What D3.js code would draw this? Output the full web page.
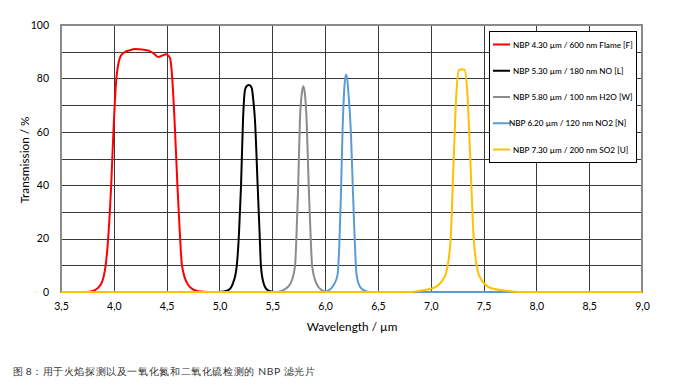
<!DOCTYPE html>
<html><head><meta charset="utf-8">
<script src="https://cdn.jsdelivr.net/npm/d3@7/dist/d3.min.js"></script>
<style>
html,body{margin:0;padding:0;background:#fff;}
svg{display:block;}
text{font-family:Lato,"Open Sans",sans-serif;}
</style></head>
<body><svg id="c" width="700" height="391"></svg>
<script>
// ---- data ----
const xTicks = [3.5,4.0,4.5,5.0,5.5,6.0,6.5,7.0,7.5,8.0,8.5,9.0];
const yTicks = [0,20,40,60,80,100];
const yGrid = [0,10,20,30,40,50,60,70,80,90,100];
const seriesNames = [
  "NBP 4.30 \u00b5m / 600 nm Flame [F]",
  "NBP 5.30 \u00b5m / 180 nm NO [L]",
  "NBP 5.80 \u00b5m / 100 nm H2O [W]",
  "NBP 6.20 \u00b5m / 120 nm NO2 [N]",
  "NBP 7.30 \u00b5m / 200 nm SO2 [U]"
];
const seriesColors = ["#ff0000","#000000","#8c8c8c","#5b9bd5","#ffc000"];
const flame = [[3.5,0],[3.75,0],[3.82,0.7],[3.88,3],[3.925,10.7],[3.95,22],[3.975,40],[3.997,60.7],[4.022,79],[4.06,88],[4.09,89.5],[4.15,90.5],[4.2,91],[4.27,90.8],[4.33,90.4],[4.38,89.3],[4.42,88],[4.46,88.6],[4.495,89],[4.52,88.3],[4.533,87.5],[4.555,79],[4.58,60],[4.602,40],[4.625,22],[4.643,10.7],[4.675,5],[4.706,2.5],[4.75,1],[4.80,0.3],[4.9,0],[9,0]];
const no = [[3.5,0],[5.0,0],[5.084,0.7],[5.13,3.5],[5.163,9.5],[5.185,22],[5.204,39.5],[5.223,64.5],[5.242,75.7],[5.26,77.2],[5.28,77.5],[5.305,76.5],[5.32,72],[5.336,64.5],[5.362,39.5],[5.38,22],[5.393,9.5],[5.42,3],[5.456,0.7],[5.52,0],[9,0]];
const h2o = [[3.5,0],[5.55,0],[5.604,0.7],[5.67,3],[5.715,9.5],[5.73,22],[5.745,39.5],[5.762,64.5],[5.78,74.5],[5.793,77.1],[5.808,74.5],[5.825,64.5],[5.845,39.5],[5.862,22],[5.878,9.5],[5.92,3],[5.967,0.7],[6.03,0],[9,0]];
const no2 = [[3.5,0],[5.98,0],[6.029,0.5],[6.08,2.5],[6.118,6.4],[6.135,18],[6.149,35],[6.165,60],[6.18,75],[6.197,81.5],[6.21,79.5],[6.22,75],[6.244,60],[6.266,35],[6.285,15],[6.298,6.4],[6.33,2],[6.376,0.5],[6.43,0],[9,0]];
const so2 = [[3.5,0],[6.8,0],[6.896,0.5],[7.02,1.4],[7.132,5.7],[7.186,18.2],[7.217,49.4],[7.243,74.4],[7.268,83.2],[7.295,83.4],[7.321,83.2],[7.347,74.4],[7.375,49.4],[7.41,18.2],[7.463,5.7],[7.573,1.4],[7.715,0.5],[7.85,0],[9,0]];
const seriesData = [flame,no,h2o,no2,so2];

// ---- chart ----
const svg = d3.select("#c");
const L=61, R=642, T=25, B=292;
const x = d3.scaleLinear().domain([3.5,9.0]).range([L,R]);
const y = d3.scaleLinear().domain([0,100]).range([B,T]);
const fmt = d => d3.format(".1f")(d).replace(".",",");

// grid
const g = svg.append("g");
g.selectAll(".hg").data(yGrid).join("line")
  .attr("x1",L).attr("x2",R)
  .attr("y1",d=>Math.round(y(d))+0.5).attr("y2",d=>Math.round(y(d))+0.5)
  .attr("stroke","#3a3a3a").attr("stroke-width",1);
g.selectAll(".vg").data(xTicks).join("line")
  .attr("y1",T).attr("y2",B)
  .attr("x1",d=>Math.round(x(d))+0.5).attr("x2",d=>Math.round(x(d))+0.5)
  .attr("stroke","#3a3a3a").attr("stroke-width",1);
svg.append("rect").attr("x",L).attr("y",T).attr("width",R-L).attr("height",B-T)
  .attr("fill","none").attr("stroke","#8a8a8a").attr("stroke-width",2);

// axes
const xAxis = svg.append("g").attr("transform",`translate(0,${B})`)
  .call(d3.axisBottom(x).tickValues(xTicks).tickFormat(fmt).tickSize(0).tickPadding(10.5));
xAxis.select(".domain").remove();
xAxis.selectAll("text").attr("font-size","10.5px").attr("fill","#000").attr("font-family","Lato,sans-serif");
const yAxis = svg.append("g").attr("transform",`translate(${L},0)`)
  .call(d3.axisLeft(y).tickValues(yTicks).tickFormat(d3.format("d")).tickSize(0).tickPadding(12));
yAxis.select(".domain").remove();
yAxis.selectAll("text").attr("font-size","10.5px").attr("fill","#000").attr("font-family","Lato,sans-serif");

svg.append("text").attr("x",352).attr("y",331).attr("text-anchor","middle")
  .attr("font-size","11.8px").text("Wavelength / \u00b5m");
svg.append("text").attr("transform",`translate(29,160) rotate(-90)`).attr("text-anchor","middle")
  .attr("font-size","11.8px").text("Transmission / %");

// lines
const line = d3.line().x(d=>x(d[0])).y(d=>y(d[1])).curve(d3.curveMonotoneX);
svg.append("g").selectAll("path").data(seriesData).join("path")
  .attr("d",line).attr("fill","none")
  .attr("stroke",(d,i)=>seriesColors[i]).attr("stroke-width",2);

// legend
const lg = svg.append("g");
lg.append("rect").attr("x",489.5).attr("y",31.5).attr("width",147).attr("height",131)
  .attr("fill","#fff").attr("stroke","#000").attr("stroke-width",1);
const ly = d3.scalePoint().domain(d3.range(seriesNames.length)).range([44.5,149.5]);
seriesNames.forEach((n,i)=>{
  lg.append("line").attr("x1",493).attr("x2",510).attr("y1",ly(i)).attr("y2",ly(i))
    .attr("stroke",seriesColors[i]).attr("stroke-width",2);
  lg.append("text").attr("x",i===3?509:513).attr("y",ly(i)+3).attr("font-size","8.2px")
    .attr("font-weight",500).text(n);
});

// caption
const cap = svg.append("g").attr("font-size","10.3px").attr("fill","#333")
  .attr("font-family","'Noto Sans CJK SC',sans-serif");
cap.append("text").attr("x",13).attr("y",375).text("图 8");
cap.append("text").attr("x",32).attr("y",375).text("：");
cap.append("text").attr("x",42.5).attr("y",375).attr("textLength",272.5).attr("lengthAdjust","spacing")
  .text("用于火焰探测以及一氧化氮和二氧化硫检测的 NBP 滤光片");
</script></body></html>
